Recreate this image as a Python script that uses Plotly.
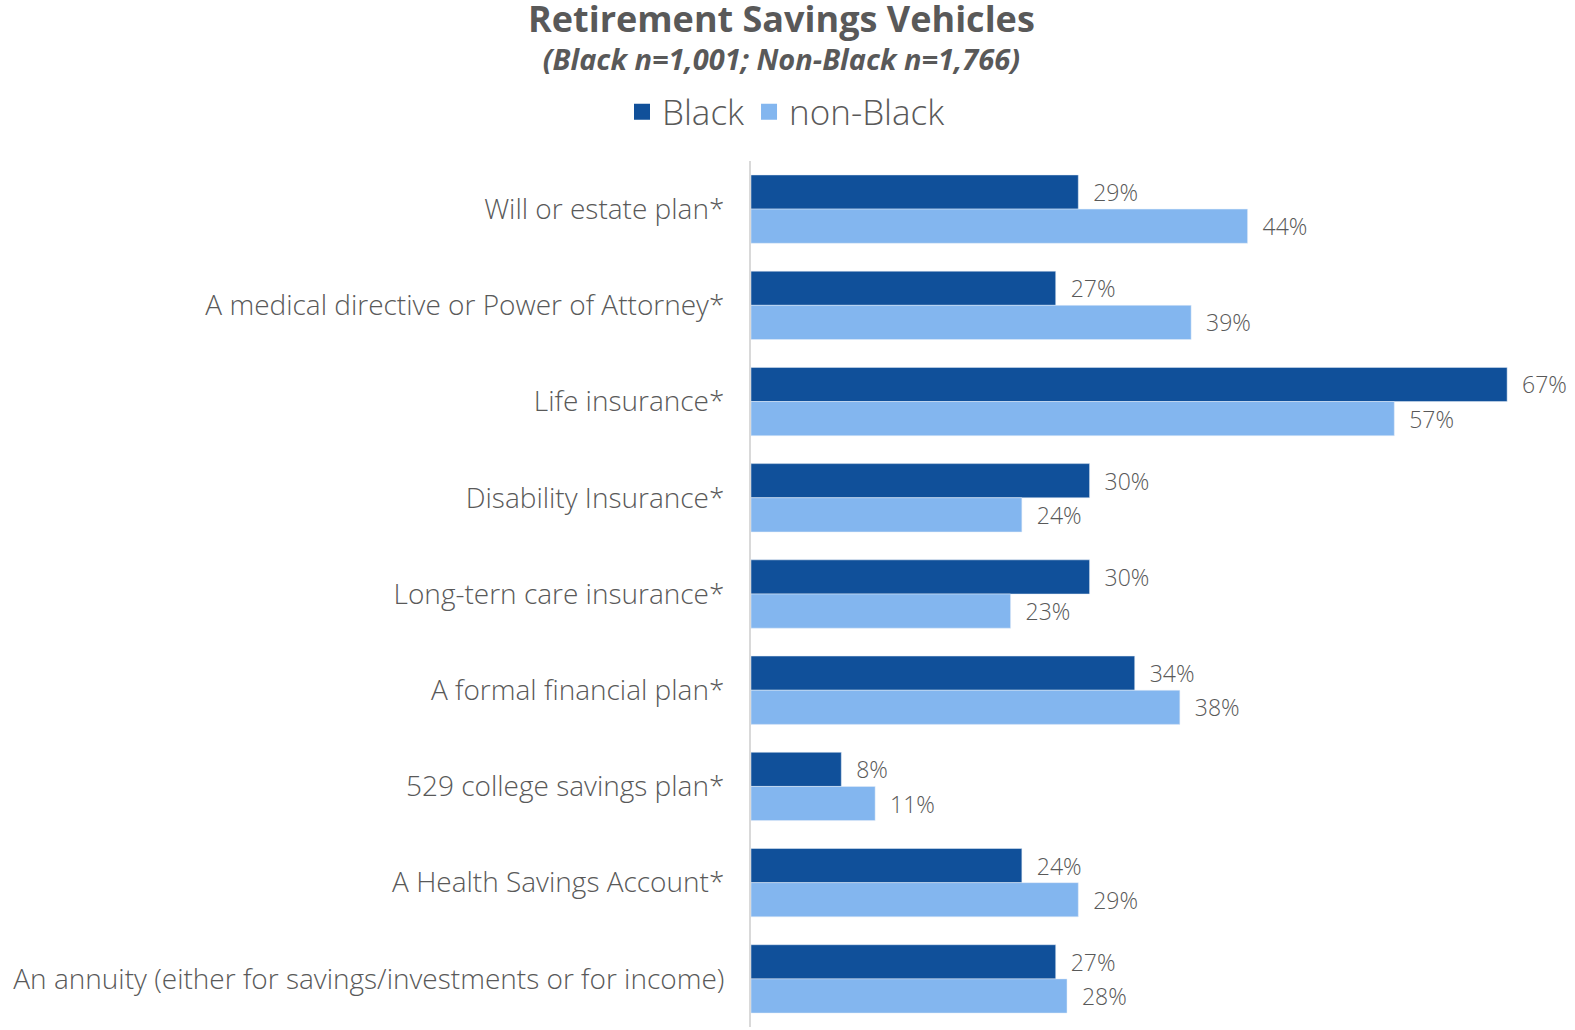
import plotly.graph_objects as go

categories = [
    "Will or estate plan*",
    "A medical directive or Power of Attorney*",
    "Life insurance*",
    "Disability Insurance*",
    "Long-tern care insurance*",
    "A formal financial plan*",
    "529 college savings plan*",
    "A Health Savings Account*",
    "An annuity (either for savings/investments or for income)",
]
black = [0.29, 0.27, 0.67, 0.30, 0.30, 0.34, 0.08, 0.24, 0.27]
non_black = [0.44, 0.39, 0.57, 0.24, 0.23, 0.38, 0.11, 0.29, 0.28]

FONT = "Open Sans"
TEXT = "#595959"
C_BLACK = "#10509A"
C_NON = "#83B6EF"
PAD = "\u00a0\u00a0"

W, H = 1575, 1030
L, R, T, B = 751, 34, 161, 3
PW, PH = W - L - R, H - T - B


def px_x(x):
    return (x - L) / PW


def px_y(y):
    return 1 + (T - y) / PH


fig = go.Figure()
for name, vals, color in [("Black", black, C_BLACK), ("non-Black", non_black, C_NON)]:
    fig.add_trace(go.Bar(
        y=categories, x=vals, orientation="h", name=name,
        marker=dict(color=color), showlegend=False,
        text=[f"{PAD}{v:.0%}" for v in vals], textposition="outside",
        textfont=dict(family=FONT, size=23, color=TEXT, weight=300),
        cliponaxis=False,
    ))

# legend entries with larger square swatches
for name, color in [("Black", C_BLACK), ("non-Black", C_NON)]:
    fig.add_trace(go.Scatter(
        x=[None], y=[None], mode="markers", name=name,
        marker=dict(symbol="square", size=16, color=color),
    ))

fig.update_layout(
    width=W, height=H,
    margin=dict(l=L, r=R, t=T, b=B),
    paper_bgcolor="white", plot_bgcolor="white",
    barmode="group", bargap=0.29, bargroupgap=0,
    font=dict(family=FONT, color=TEXT),
    showlegend=True,
    legend=dict(orientation="h", x=px_x(786), xanchor="center",
                y=px_y(112), yanchor="middle",
                font=dict(size=35, color=TEXT, weight=300),
                itemwidth=30, itemsizing="trace"),
    xaxis=dict(range=[0, 0.70], showgrid=False, zeroline=False,
               showticklabels=False, showline=False),
    yaxis=dict(autorange="reversed", showgrid=False, showline=True,
               linecolor="#D9D9D9", linewidth=2, ticks="",
               ticklabelstandoff=19,
               tickfont=dict(family=FONT, size=28, color=TEXT, weight=300)),
)

fig.add_annotation(
    text=("<b><span style='font-size:36px'>Retirement Savings Vehicles</span></b>"
          "<br><b><i>(Black n=1,001; Non-Black n=1,766)</i></b>"),
    xref="paper", x=px_x(781), xanchor="center",
    yref="paper", y=px_y(36), yanchor="middle",
    showarrow=False, align="center",
    font=dict(size=29, color=TEXT, family=FONT),
)

fig.write_html("out.html")
